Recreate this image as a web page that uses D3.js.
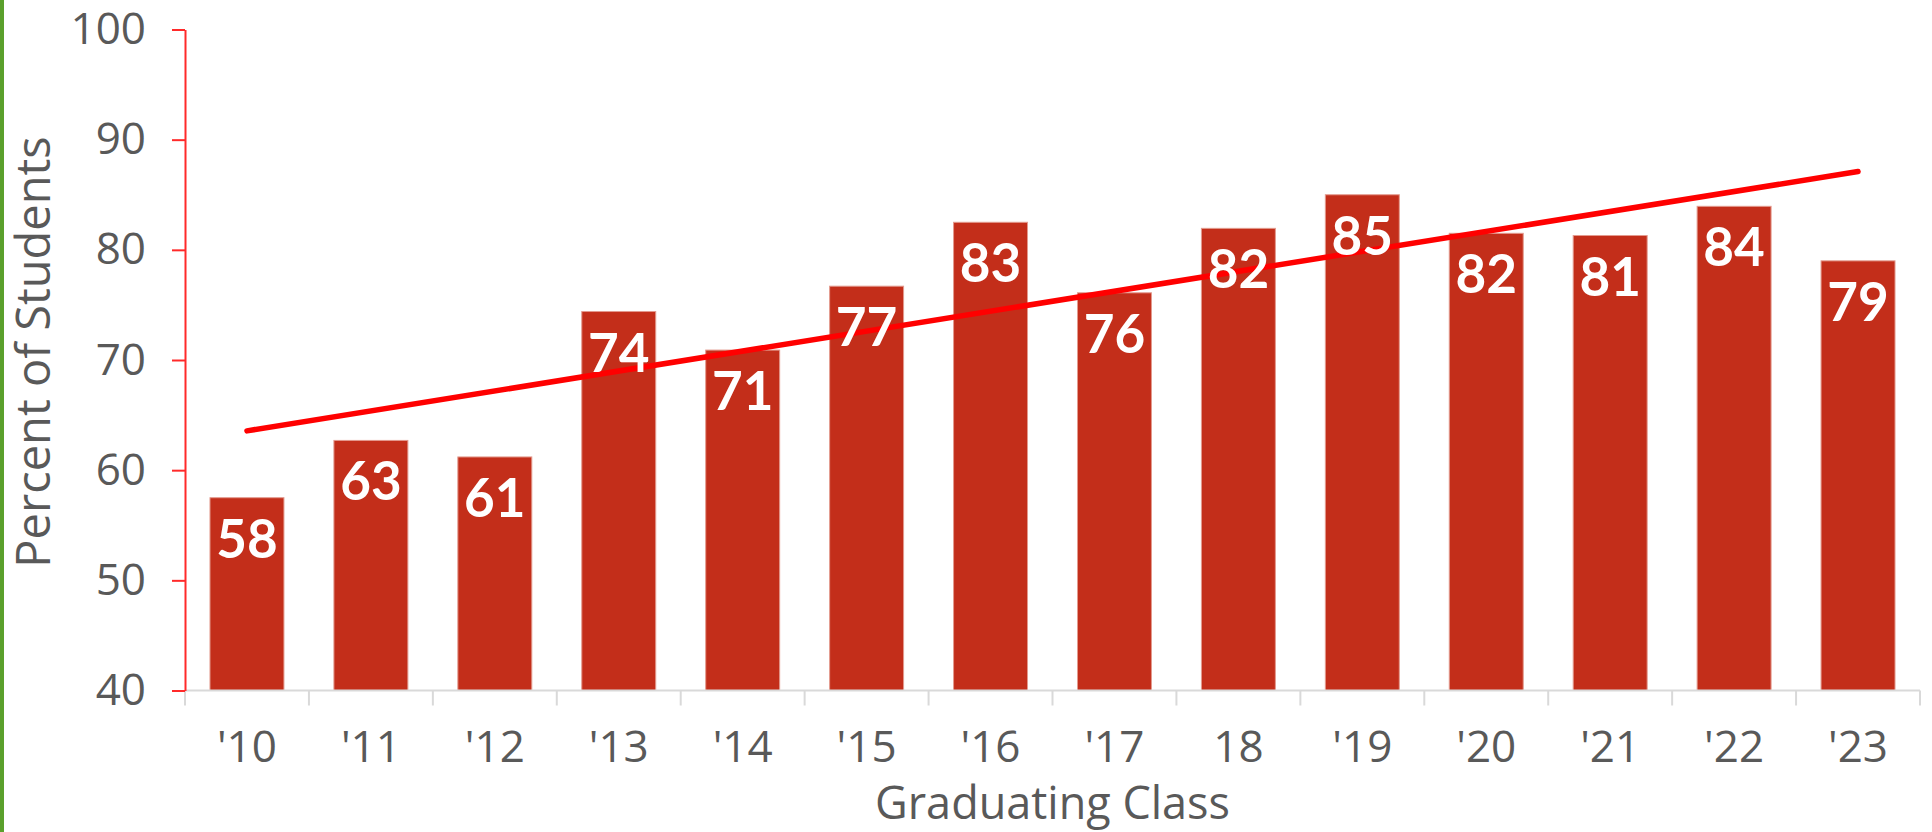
<!DOCTYPE html>
<html>
<head>
<meta charset="utf-8">
<script src="https://cdn.jsdelivr.net/npm/d3@7"></script>
<style>
  html, body { margin: 0; padding: 0; background: #fff; }
  svg { display: block; }
</style>
</head>
<body>
<svg id="chart" width="1932" height="832"></svg>
<script>
const categories = ["'10", "'11", "'12", "'13", "'14", "'15", "'16", "'17", "18", "'19", "'20", "'21", "'22", "'23"];
const values = [57.5, 62.7, 61.2, 74.4, 70.9, 76.7, 82.5, 76.1, 81.95, 85.0, 81.5, 81.3, 83.95, 79.0];
const yTicks = [40, 50, 60, 70, 80, 90, 100];
const yTitle = "Percent of Students";
const xTitle = "Graduating Class";

const svg = d3.select("#chart");
const W = 1932, H = 832;
const m = { left: 185, right: 12, top: 29.5, bottom: 141.5 };

// green left border
svg.append("rect").attr("x", 0).attr("y", 0).attr("width", 4).attr("height", H).attr("fill", "#5aa02c");

const x = d3.scaleBand().domain(categories).range([m.left, W - m.right]).paddingInner(50/124).paddingOuter(25/124);
const xb = d3.scaleBand().domain(categories).range([m.left, W - m.right]).padding(0);
const y = d3.scaleLinear().domain([40, 100]).range([H - m.bottom, m.top]);

const textColor = "#595959";
const axisFont = "'Open Sans', 'Noto Sans', sans-serif";

// bars
svg.append("g").selectAll("rect").data(values).join("rect")
  .attr("x", (d, i) => x(categories[i]))
  .attr("y", d => y(d))
  .attr("width", x.bandwidth())
  .attr("height", d => y(40) - y(d))
  .attr("fill", "#c32e1a")
  .attr("stroke", "#e39a8e")
  .attr("stroke-width", 1);

// x axis (gray baseline with boundary ticks)
const gx = svg.append("g");
gx.append("line").attr("x1", m.left).attr("x2", W - m.right)
  .attr("y1", y(40)).attr("y2", y(40)).attr("stroke", "#d9d9d9").attr("stroke-width", 2);
const bounds = categories.map(c => xb(c)).concat([W - m.right]);
gx.selectAll("line.t").data(bounds).join("line").attr("class", "t")
  .attr("x1", d => d).attr("x2", d => d)
  .attr("y1", y(40)).attr("y2", y(40) + 15)
  .attr("stroke", "#d9d9d9").attr("stroke-width", 2);
gx.selectAll("text").data(categories).join("text")
  .attr("x", d => xb(d) + xb.bandwidth() / 2)
  .attr("y", 762)
  .attr("text-anchor", "middle")
  .attr("font-family", axisFont).attr("font-size", 44).attr("fill", textColor)
  .text(d => d);

// y axis
const yAxis = d3.axisLeft(y).tickValues(yTicks).tickSize(13).tickPadding(26).tickSizeOuter(0);
const gy = svg.append("g").attr("transform", `translate(${m.left},0)`).call(yAxis);
gy.select(".domain").attr("stroke", "#ff2a2a").attr("stroke-width", 2);
gy.selectAll(".tick line").attr("stroke", "#ff2a2a").attr("stroke-width", 2);
gy.selectAll(".tick text").attr("font-family", axisFont).attr("font-size", 44).attr("fill", textColor);

// trend line (least squares fit of the series)
const n = values.length;
const xs = d3.range(n);
const mx = d3.mean(xs), my = d3.mean(values);
const slope = d3.sum(xs, i => (i - mx) * (values[i] - my)) / d3.sum(xs, i => (i - mx) ** 2);
const icpt = my - slope * mx;
const trend = [0, n - 1].map(i => [xb(categories[i]) + xb.bandwidth() / 2, y(icpt + slope * i)]);
svg.append("path").attr("d", d3.line()(trend))
  .attr("stroke", "#ff0000").attr("stroke-width", 5.5).attr("stroke-linecap", "round").attr("fill", "none");

// data labels
const fmt = d3.format(".0f");
svg.append("g").selectAll("text").data(values).join("text")
  .attr("x", (d, i) => xb(categories[i]) + xb.bandwidth() / 2)
  .attr("y", d => y(d) + 60)
  .attr("text-anchor", "middle")
  .attr("font-family", "'Lato', sans-serif")
  .attr("font-weight", "bold")
  .attr("font-size", 53)
  .attr("fill", "#ffffff")
  .text(d => fmt(d));

// titles
svg.append("text")
  .attr("transform", "translate(50,352) rotate(-90)")
  .attr("text-anchor", "middle")
  .attr("font-family", axisFont).attr("font-size", 47).attr("fill", textColor)
  .text(yTitle);
svg.append("text")
  .attr("x", (m.left + W - m.right) / 2).attr("y", 819)
  .attr("text-anchor", "middle")
  .attr("font-family", axisFont).attr("font-size", 45).attr("fill", textColor)
  .text(xTitle);
</script>
</body>
</html>
